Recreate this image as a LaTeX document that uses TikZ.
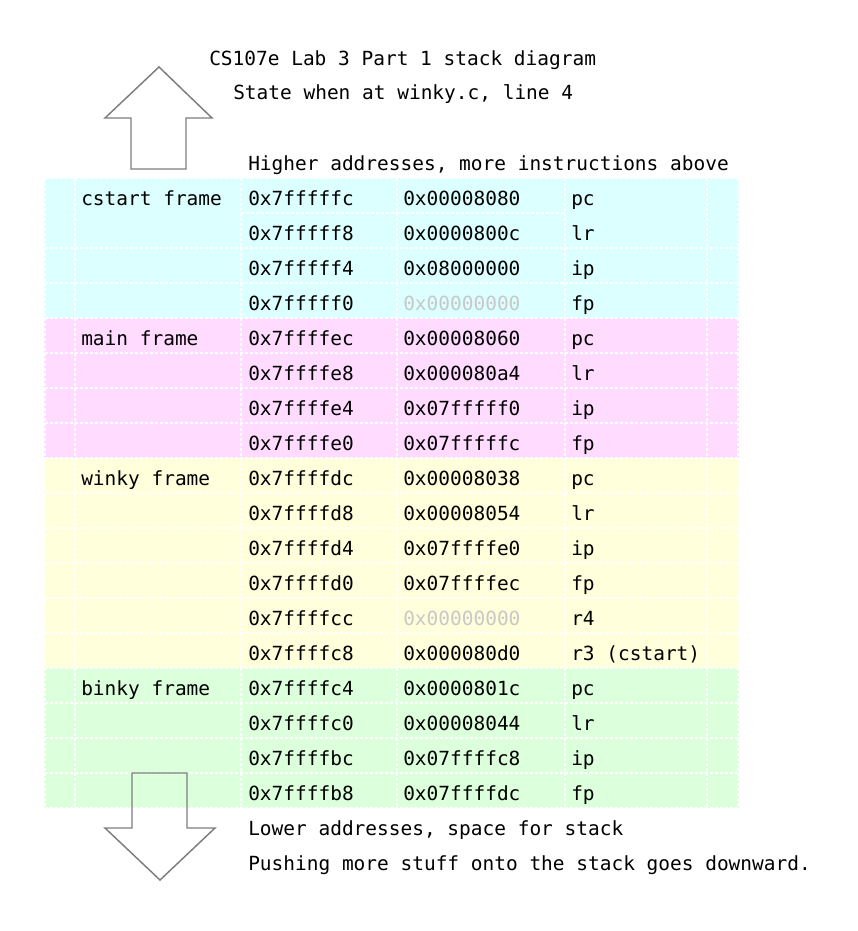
\documentclass[tikz,border=0pt]{standalone}
\usepackage{fontspec}
\setmainfont{DejaVu Sans Mono}
\definecolor{cyanbg}{RGB}{220,255,255}
\definecolor{pinkbg}{RGB}{255,220,255}
\definecolor{yellowbg}{RGB}{255,255,220}
\definecolor{greenbg}{RGB}{220,255,220}
\definecolor{zerogrey}{RGB}{200,200,200}
\definecolor{arrowgrey}{RGB}{125,125,125}
\tikzset{
  txt/.style={anchor=base west, inner sep=0pt, font=\fontsize{14.6pt}{17pt}\selectfont},
  grid line/.style={white, line width=1.5pt, dash pattern=on 2.25pt off 1.5pt},
  bigarrow/.style={draw=arrowgrey, line width=1.1pt, line join=miter},
}
\begin{document}
\begin{tikzpicture}[x=0.75pt,y=-0.75pt]
\useasboundingbox (0,0) rectangle (857,931);
% frame backgrounds
\fill[cyanbg] (44,178) rectangle (739,318);
\fill[pinkbg] (44,318) rectangle (739,458);
\fill[yellowbg] (44,458) rectangle (739,668);
\fill[greenbg] (44,668) rectangle (739,808);
% grid
\foreach \k in {0,2,3,...,18} {
  \draw[grid line] (45,178+35*\k) -- (738,178+35*\k);
}
\draw[grid line] (241,213) -- (565,213);
\foreach \xx in {45,75,241,397,565,707,738} {
  \draw[grid line] (\xx,178) -- (\xx,808);
}
% arrows
\draw[bigarrow] (159,67) -- (212,118) -- (186,118) -- (186,169) -- (131,169) -- (131,118) -- (105,118) -- cycle;
\draw[bigarrow] (160,880) -- (215,828) -- (187,828) -- (187,773) -- (132,773) -- (132,828) -- (105,828) -- cycle;
% titles
\node[txt] (title) at (209,65) {CS107e Lab 3 Part 1 stack diagram};
\node[txt] (state) at (233,99) {State when at winky.c, line 4};
\node[txt] (higher) at (248,170) {Higher addresses, more instructions above};
\node[txt] (lower) at (248,835) {Lower addresses, space for stack};
\node[txt] (push) at (248,870) {Pushing more stuff onto the stack goes downward.};
% frame labels
\node[txt] (fcstart) at (81,205) {cstart frame};
\node[txt] (fmain) at (81,345) {main frame};
\node[txt] (fwinky) at (81,485) {winky frame};
\node[txt] (fbinky) at (81,695) {binky frame};
% rows
\foreach \i/\a/\v/\c/\r in {
  0/0x7fffffc/0x00008080/black/pc,
  1/0x7fffff8/0x0000800c/black/lr,
  2/0x7fffff4/0x08000000/black/ip,
  3/0x7fffff0/0x00000000/zerogrey/fp,
  4/0x7ffffec/0x00008060/black/pc,
  5/0x7ffffe8/0x000080a4/black/lr,
  6/0x7ffffe4/0x07fffff0/black/ip,
  7/0x7ffffe0/0x07fffffc/black/fp,
  8/0x7ffffdc/0x00008038/black/pc,
  9/0x7ffffd8/0x00008054/black/lr,
  10/0x7ffffd4/0x07ffffe0/black/ip,
  11/0x7ffffd0/0x07ffffec/black/fp,
  12/0x7ffffcc/0x00000000/zerogrey/r4,
  13/0x7ffffc8/0x000080d0/black/{r3 (cstart)},
  14/0x7ffffc4/0x0000801c/black/pc,
  15/0x7ffffc0/0x00008044/black/lr,
  16/0x7ffffbc/0x07ffffc8/black/ip,
  17/0x7ffffb8/0x07ffffdc/black/fp} {
  \node[txt] (addr\i) at (248,205+35*\i) {\a};
  \node[txt, text=\c] (val\i) at (403,205+35*\i) {\v};
  \node[txt] (reg\i) at (571,205+35*\i) {\r};
}
\end{tikzpicture}
\end{document}
